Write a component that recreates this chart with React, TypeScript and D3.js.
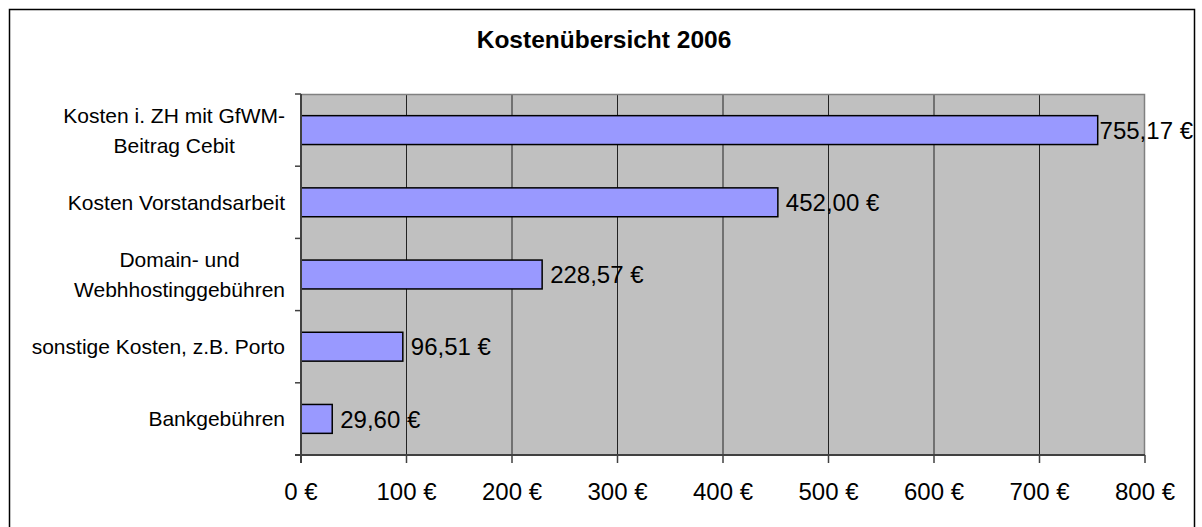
import React from "react";
import * as d3 from "d3";

const categories: string[][] = [
  ["Kosten i. ZH mit GfWM-", "Beitrag Cebit"],
  ["Kosten Vorstandsarbeit"],
  ["Domain- und", "Webhhostinggebühren"],
  ["sonstige Kosten, z.B. Porto"],
  ["Bankgebühren"],
];
const values: number[] = [755.17, 452.0, 228.57, 96.51, 29.6];
const tickValues: number[] = [0, 100, 200, 300, 400, 500, 600, 700, 800];
const title = "Kostenübersicht 2006";

const W = 1202;
const H = 527;
const FONT = "'Liberation Sans', Arial, Helvetica, sans-serif";

const fmtEuro = (v: number) =>
  v.toFixed(2).replace(".", ",") + " €";

let ctx: CanvasRenderingContext2D | null = null;
function measure(text: string, font: string): number {
  if (!ctx) {
    const c = document.createElement("canvas");
    ctx = c.getContext("2d");
  }
  if (!ctx) return text.length * 10;
  ctx.font = font;
  return ctx.measureText(text).width;
}

export default function App() {
  const plot = { left: 301, right: 1145, top: 94, bottom: 455 };
  const x = d3.scaleLinear().domain([0, 800]).range([plot.left, plot.right]);
  const keys = categories.map((_, i) => String(i));
  const y = d3.scaleBand<string>().domain(keys).range([plot.top, plot.bottom]).paddingInner(0).paddingOuter(0);
  const bw = y.bandwidth();
  const catFont = `21px ${FONT}`;
  const valFont = `24px ${FONT}`;
  const labelRight = 285;

  return (
    <svg
      width={W}
      height={H}
      style={{ position: "absolute", left: 0, top: 0, background: "#fff" }}
      fontFamily={FONT}
    >
      <rect x={0} y={0} width={W} height={H} fill="#fff" />
      {/* outer chart border */}
      <path d={`M9.5,${H + 2} V9.5 H1194.5 V${H + 2}`} fill="none" stroke="#000" strokeWidth={1.5} />

      {/* title */}
      <text x={604} y={48} textAnchor="middle" fontWeight="bold" fontSize={24.5} fill="#000">
        {title}
      </text>

      {/* plot background */}
      <rect x={plot.left} y={plot.top} width={plot.right - plot.left} height={plot.bottom - plot.top} fill="#C0C0C0" />
      {/* gridlines */}
      {tickValues.slice(1, -1).map((t) => (
        <line key={"g" + t} x1={x(t)} x2={x(t)} y1={plot.top} y2={plot.bottom} stroke="#222" strokeWidth={1} />
      ))}
      {/* plot border top/right */}
      <path
        d={`M${plot.left},${plot.top + 0.5} H${plot.right - 0.5} V${plot.bottom}`}
        fill="none"
        stroke="#808080"
        strokeWidth={1.5}
      />

      {/* bars */}
      {values.map((v, i) => (
        <rect
          key={"b" + i}
          x={x(0)}
          y={(y(String(i)) as number) + bw * 0.3}
          width={x(v) - x(0)}
          height={bw * 0.4}
          fill="#9999FF"
          stroke="#000"
          strokeWidth={1.5}
        />
      ))}

      {/* axes */}
      <line x1={plot.left} x2={plot.left} y1={plot.top} y2={plot.bottom + 8} stroke="#404040" strokeWidth={2} />
      <line x1={plot.left - 6} x2={plot.right} y1={plot.bottom} y2={plot.bottom} stroke="#404040" strokeWidth={2} />
      {/* y ticks at band boundaries */}
      {[...keys.map((k) => y(k) as number), plot.bottom].map((yy, i) => (
        <line key={"yt" + i} x1={plot.left - 6} x2={plot.left} y1={yy} y2={yy} stroke="#404040" strokeWidth={1.5} />
      ))}
      {/* x ticks */}
      {tickValues.map((t) => (
        <g key={"xt" + t}>
          <line x1={x(t)} x2={x(t)} y1={plot.bottom} y2={plot.bottom + 8} stroke="#404040" strokeWidth={1.5} />
          <text x={x(t)} y={500} textAnchor="middle" fontSize={24} fill="#000">
            {t + " €"}
          </text>
        </g>
      ))}

      {/* category labels */}
      {categories.map((lines, i) => {
        const cy = (y(String(i)) as number) + bw / 2;
        if (lines.length === 1) {
          return (
            <text key={"c" + i} x={labelRight} y={cy + 7.5} textAnchor="end" fontSize={21} fill="#000">
              {lines[0]}
            </text>
          );
        }
        const maxW = Math.max(...lines.map((l) => measure(l, catFont)));
        const cx = labelRight - maxW / 2;
        return (
          <g key={"c" + i}>
            {lines.map((l, j) => (
              <text
                key={j}
                x={cx}
                y={cy + 7.5 + (j - (lines.length - 1) / 2) * 30}
                textAnchor="middle"
                fontSize={21}
                fill="#000"
              >
                {l}
              </text>
            ))}
          </g>
        );
      })}

      {/* value labels */}
      {values.map((v, i) => {
        const cy = (y(String(i)) as number) + bw / 2;
        const label = fmtEuro(v);
        const tw = measure(label, valFont);
        let lx = x(v) + 8;
        if (lx + tw > 1193) lx = 1193 - tw;
        return (
          <text key={"v" + i} x={lx} y={cy + 8.6} fontSize={24} fill="#000">
            {label}
          </text>
        );
      })}
    </svg>
  );
}
